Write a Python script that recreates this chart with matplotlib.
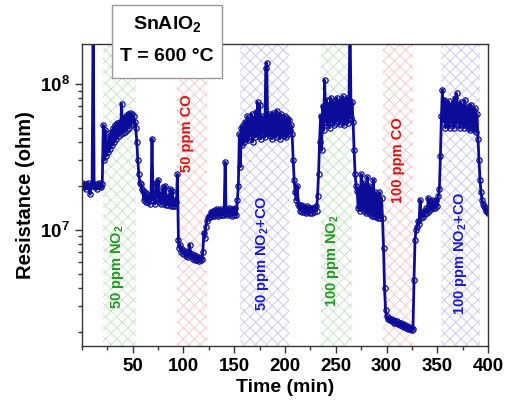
import numpy as np
import matplotlib
matplotlib.use("Agg")
import matplotlib.pyplot as plt
from matplotlib.patches import Rectangle
from matplotlib.ticker import FixedLocator, NullFormatter, MultipleLocator

plt.rcParams['font.family'] = ['Liberation Sans', 'DejaVu Sans']
plt.rcParams['font.weight'] = 'bold'
plt.rcParams['mathtext.fontset'] = 'custom'
plt.rcParams['mathtext.rm'] = 'Liberation Sans:bold'
plt.rcParams['mathtext.bf'] = 'Liberation Sans:bold'
plt.rcParams['hatch.linewidth'] = 0.6

# ---------- Dati ------------ #
# resistenza in 1e6 ohm, un campione al minuto (t = 0 ... 400)
resistance_mohm = [
    21, 20, 19.5, 20.5, 19, 20, 21, 19.5, 17.5, 20,
    20.5, 300, 20, 19.5, 20.5, 19, 20, 21, 20, 19.5,
    20.5, 52, 30, 48, 32, 40, 34, 44, 36, 47,
    38, 50, 40, 52, 42, 54, 44, 55, 45, 73,
    46, 58, 47, 60, 48, 62, 50, 63, 52, 62,
    54, 60, 55, 50, 40, 30, 24, 21, 20.5, 19,
    18.5, 16, 18, 15.5, 17.5, 15.5, 17, 15, 17, 42,
    16, 17.5, 15, 21, 16.5, 22, 15.5, 18, 15, 17,
    19.5, 15, 20, 14.8, 17, 14.8, 16.5, 19, 14.5, 18.5,
    14.5, 16, 14.5, 15.5, 24, 8.5, 7.5, 7.8, 7.0, 7.4,
    6.8, 7.2, 6.6, 7.0, 6.5, 7.0, 7.9, 6.6, 6.8, 6.3,
    6.7, 6.2, 6.6, 6.2, 6.5, 6.1, 6.4, 6.2, 6.3, 7.0,
    9.5, 8.8, 10.5, 11.5, 12.0, 12.5, 12.2, 13.2, 12.4, 13.5,
    12.5, 13.6, 12.6, 13.8, 12.5, 13.6, 12.6, 13.8, 12.7, 13.6,
    12.6, 29, 12.8, 13.8, 12.6, 14, 12.8, 13.8, 12.5, 13.9,
    12.7, 14, 12.6, 16, 20, 45, 27, 50, 38, 52,
    40, 55, 42, 60, 41, 56, 44, 62, 40, 58,
    43, 64, 45, 75, 44, 72, 42, 60, 46, 58,
    43, 128, 139, 45, 62, 44, 60, 42, 63, 45,
    61, 43, 65, 46, 60, 42, 62, 45, 58, 44,
    60, 43, 58, 45, 57, 48, 52, 45, 30, 22,
    18, 16, 20, 15, 14.5, 13.5, 14.8, 13.2, 14.5, 13.2,
    14.2, 13, 14.5, 13.2, 14, 13, 14.2, 13.1, 14, 13.2,
    14.5, 13.5, 17, 24, 40, 60, 35, 70, 48, 106,
    55, 78, 52, 72, 50, 80, 55, 76, 52, 74,
    54, 80, 56, 75, 53, 78, 55, 82, 52, 76,
    56, 80, 54, 77, 300, 58, 75, 55, 35, 24,
    20, 18.5, 14, 19, 13.5, 24, 14, 21, 13.5, 20,
    13, 23, 13.2, 20, 12.8, 19, 12.5, 22, 12.5, 18,
    12.2, 17, 12, 18, 12, 16.5, 12, 7.5, 4.0, 2.8,
    2.55, 2.45, 2.5, 2.4, 2.45, 2.35, 2.4, 2.3, 2.38, 2.28,
    2.35, 2.25, 2.3, 2.22, 2.28, 2.2, 2.25, 2.15, 2.22, 2.12,
    2.18, 2.1, 2.15, 2.08, 2.12, 2.05, 2.1, 4.5, 8.5, 10,
    10.5, 11.5, 11, 16, 12, 12.8, 12.2, 13.5, 12.8, 14,
    13, 16.5, 13.5, 15, 13.8, 16, 14, 15.5, 14.2, 16,
    14.5, 17, 19, 32, 60, 91, 55, 78, 50, 72,
    52, 76, 50, 70, 54, 74, 50, 80, 52, 86,
    54, 72, 50, 75, 53, 70, 50, 77, 52, 68,
    50, 70, 48, 72, 50, 66, 48, 68, 47, 62,
    42, 30, 22, 18, 16, 15, 14.5, 14, 13.5, 13.5,
    13,
]
time_min = np.arange(len(resistance_mohm))
resistance = np.array(resistance_mohm) * 1e6

# finestre di esposizione ai gas
gas_start = [21, 94, 156, 235, 296, 354]
gas_end = [53, 123, 204, 266, 326, 392]
gas_labels = ['50 ppm NO$_\\mathbf{2}$', '50 ppm CO', '50 ppm NO$_\\mathbf{2}$+CO',
              '100 ppm NO$_\\mathbf{2}$', '100 ppm CO', '100 ppm NO$_\\mathbf{2}$+CO']
label_x = [35, 103, 178, 247, 311, 372.5]
label_y = [5.6e6, 4.6e7, 6.9e6, 6.1e6, 3.0e7, 6.9e6]
gas_text_colors = ['#1f9a1f', '#e01010', '#1a1ad0', '#1f9a1f', '#e01010', '#1a1ad0']
gas_hatch_colors = ['#c2e2c2', '#f5c4c4', '#c4c4f0', '#c2e2c2', '#f5c4c4', '#c4c4f0']

x_ticks = [50, 100, 150, 200, 250, 300, 350, 400]
y_ticks = [1e7, 1e8]
y_tick_labels = ['$\\mathbf{10^{7}}$', '$\\mathbf{10^{8}}$']

# ---------- Grafico ------------ #
fig = plt.figure(figsize=(5.09, 4.03), dpi=100)
ax = fig.add_axes([0.161, 0.142, 0.798, 0.749])

for x0, x1, hc in zip(gas_start, gas_end, gas_hatch_colors):
    ax.axvspan(x0, x1, facecolor='none', edgecolor=hc, hatch='xxx', linewidth=0, zorder=0)

ax.plot(time_min, resistance, color='#0c0c98', linewidth=2.0, marker='o',
        markersize=3.8, markerfacecolor='none', markeredgecolor='#0c0c98',
        markeredgewidth=0.9, zorder=2)

for lx, ly, lab, c in zip(label_x, label_y, gas_labels, gas_text_colors):
    ax.text(lx, ly, lab, rotation=90, ha='center', va='center', color=c,
            fontsize=10.5, fontweight='bold', zorder=3)

ax.set_yscale('log')
ax.set_xlim(0, 400)
ax.set_ylim(1.6e6, 1.88e8)

ax.xaxis.set_major_locator(FixedLocator(x_ticks))
ax.xaxis.set_minor_locator(MultipleLocator(25))
ax.yaxis.set_major_locator(FixedLocator(y_ticks))
ax.set_yticklabels(y_tick_labels)
ax.yaxis.set_minor_locator(FixedLocator([m * 10 ** e for e in (6, 7, 8) for m in range(2, 10)]))
ax.yaxis.set_minor_formatter(NullFormatter())

ax.tick_params(which='both', direction='out', top=False, right=False, width=1, color='#333333')
ax.tick_params(which='major', length=5, labelsize=13.5)
ax.tick_params(which='minor', length=3)
for lab in ax.get_xticklabels():
    lab.set_fontweight('bold')
for s in ax.spines.values():
    s.set_color('#333333')
    s.set_linewidth(1)

ax.set_xlabel('Time (min)', fontsize=14, fontweight='bold', labelpad=3)
ax.set_ylabel('Resistance (ohm)', fontsize=14.5, fontweight='bold', labelpad=4)

# riquadro con materiale e temperatura
ax.add_patch(Rectangle((0.074, 0.887), 0.271, 0.242, transform=ax.transAxes,
                       facecolor='white', edgecolor='#999999', linewidth=1,
                       clip_on=False, zorder=5))
ax.text(0.21, 1.062, 'SnAlO$_\\mathbf{2}$', transform=ax.transAxes, ha='center', va='center',
        fontsize=14, fontweight='bold', zorder=6)
ax.text(0.21, 0.958, 'T = 600 °C', transform=ax.transAxes, ha='center', va='center',
        fontsize=14, fontweight='bold', zorder=6)

fig.savefig('out.png', dpi=100)
